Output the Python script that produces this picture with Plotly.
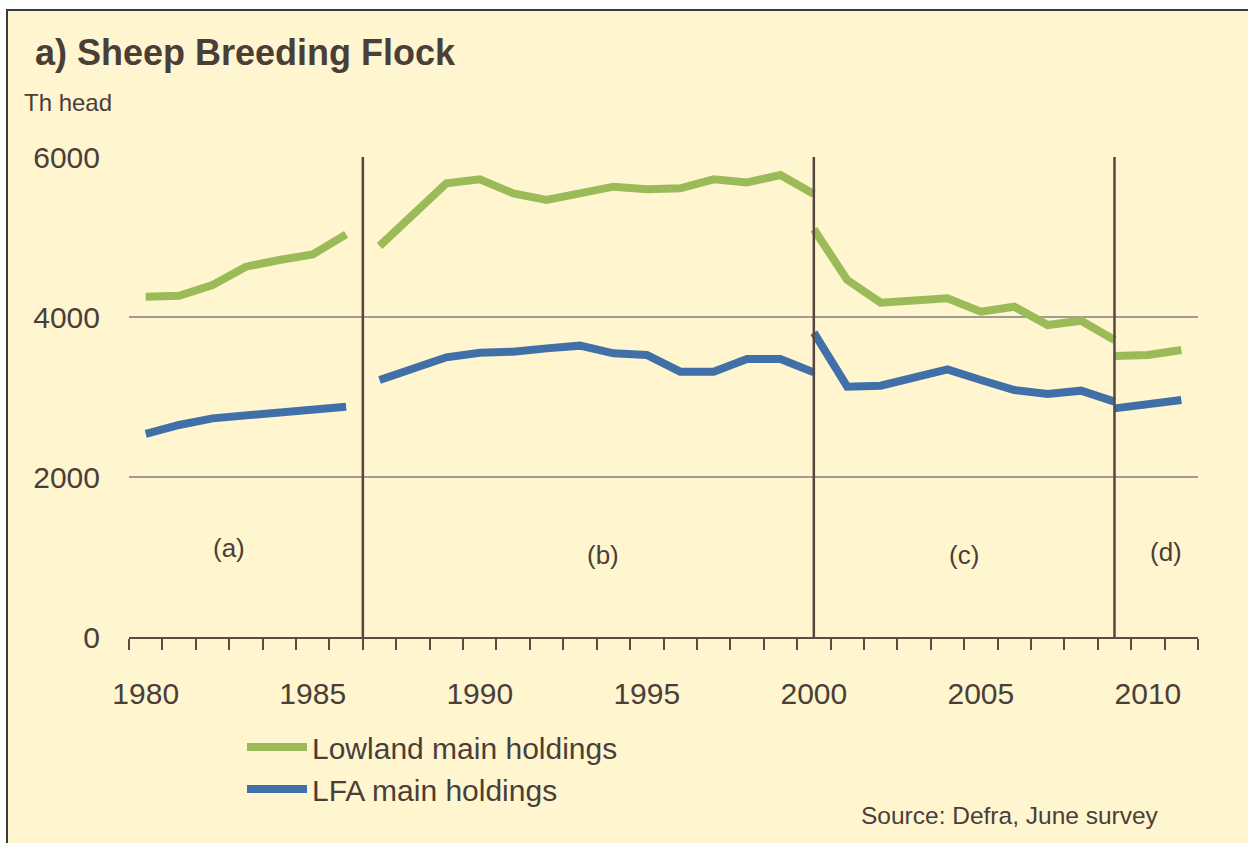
import plotly.graph_objects as go

# ---- data (thousand head) ----
years_a = [1980, 1981, 1982, 1983, 1984, 1985, 1986]
years_b = [1987, 1988, 1989, 1990, 1991, 1992, 1993, 1994, 1995, 1996, 1997, 1998, 1999, 2000]
years_c = [2000, 2001, 2002, 2003, 2004, 2005, 2006, 2007, 2008, 2009]
years_d = [2009, 2010, 2011]

lowland_a = [4254, 4266, 4400, 4629, 4713, 4783, 5033]
lowland_b = [4888, 5275, 5671, 5721, 5546, 5463, 5546, 5629, 5596, 5608, 5721, 5683, 5775, 5538]
lowland_c = [5096, 4463, 4179, 4213, 4233, 4067, 4129, 3900, 3954, 3713]
lowland_d = [3513, 3525, 3588]

lfa_a = [2538, 2650, 2733, 2775, 2796, 2838, 2879]
lfa_b = [3213, 3346, 3496, 3554, 3567, 3608, 3642, 3546, 3525, 3317, 3317, 3475, 3475, 3308]
lfa_c = [3804, 3129, 3142, 3254, 3346, 3213, 3088, 3038, 3079, 2942]
lfa_d = [2858, 2900, 2963]

period_breaks = [1986.5, 2000, 2009]
period_labels = ["(a)", "(b)", "(c)", "(d)"]
period_label_x = [1982.5, 1993.7, 2004.5, 2010.55]
period_label_y = [1110, 1030, 1030, 1060]

x_labels = [1980, 1985, 1990, 1995, 2000, 2005, 2010]
y_ticks = [0, 2000, 4000, 6000]

TITLE = "a) Sheep Breeding Flock"
UNIT = "Th head"
SOURCE = "Source: Defra, June survey"

# ---- helpers ----
def joined(segs):
    out = []
    for i, s in enumerate(segs):
        if i:
            out.append(None)
        out.extend(s)
    return out

x_all = joined([years_a, years_b, years_c, years_d])
low_all = joined([lowland_a, lowland_b, lowland_c, lowland_d])
lfa_all = joined([lfa_a, lfa_b, lfa_c, lfa_d])

W, H = 1248, 843
L, R, T, B = 129, 50, 157, 206
PW, PH = W - L - R, H - T - B

def px(xp):
    return (xp - L) / PW

def py(yp):
    return (H - B - yp) / PH

TXT = "#4a3e39"
BG = "#FFF5CE"
FONT = "Liberation Sans, Arial, sans-serif"

fig = go.Figure()
fig.add_trace(go.Scatter(x=x_all, y=low_all, mode="lines", name="Lowland main holdings",
                         line=dict(color="#9BBB59", width=8), connectgaps=False,
                         legendgroup="g1"))
fig.add_trace(go.Scatter(x=x_all, y=lfa_all, mode="lines", name="LFA main holdings",
                         line=dict(color="#4170A8", width=8), connectgaps=False,
                         legendgroup="g2"))

shapes = [
    dict(type="rect", xref="paper", yref="paper", x0=px(7), x1=px(1270), y0=py(10), y1=py(870),
         fillcolor=BG, line=dict(color="#3a3a3a", width=2), layer="below"),
]
for xb in period_breaks:
    shapes.append(dict(type="line", xref="x", yref="y", x0=xb, x1=xb, y0=0, y1=6000,
                       line=dict(color="#55463f", width=2.5), layer="above"))

annotations = [
    dict(text=f"<b>{TITLE}</b>", xref="paper", yref="paper", x=px(33), y=py(52),
         xanchor="left", yanchor="middle", showarrow=False, font=dict(size=36, color=TXT, family=FONT)),
    dict(text=UNIT, xref="paper", yref="paper", x=px(22), y=py(103),
         xanchor="left", yanchor="middle", showarrow=False, font=dict(size=24, color=TXT, family=FONT)),
    dict(text=SOURCE, xref="paper", yref="paper", x=px(1161), y=py(815),
         xanchor="right", yanchor="middle", showarrow=False, font=dict(size=24.5, color=TXT, family=FONT)),
]
for lab, lx, ly in zip(period_labels, period_label_x, period_label_y):
    annotations.append(dict(text=lab, x=lx, y=ly, xref="x", yref="y", showarrow=False,
                            font=dict(size=26, color=TXT, family=FONT)))

fig.update_layout(
    width=W, height=H,
    margin=dict(l=L, r=R, t=T, b=B),
    paper_bgcolor="white", plot_bgcolor=BG,
    font=dict(family=FONT, color=TXT),
    shapes=shapes, annotations=annotations,
    showlegend=True,
    legend=dict(x=px(242), y=py(721), xanchor="left", yanchor="top",
                bgcolor="rgba(0,0,0,0)", font=dict(size=30, color=TXT, family=FONT),
                tracegroupgap=0, itemwidth=60),
    xaxis=dict(range=[1979.5, 2011.5], tickmode="array", tickvals=x_labels,
               ticks="outside", ticklen=11, tickcolor="rgba(0,0,0,0)",
               ticklabelstandoff=18,
               showgrid=False, zeroline=False, showline=True, linecolor="#5b4b43", linewidth=2,
               tickfont=dict(size=30, color=TXT, family=FONT),
               minor=dict(tick0=1979.5, dtick=1, ticks="outside", ticklen=11,
                          tickcolor="#5b4b43", tickwidth=1.5, showgrid=False)),
    yaxis=dict(range=[0, 6000], tickvals=y_ticks, ticks="", showgrid=True,
               gridcolor="#a09c94", gridwidth=1.5, zeroline=False, showline=False,
               ticklabelstandoff=28,
               tickfont=dict(size=30, color=TXT, family=FONT)),
)

fig.write_html("out.html", config={"displayModeBar": False},
               post_script="document.body.style.margin='0px';")
